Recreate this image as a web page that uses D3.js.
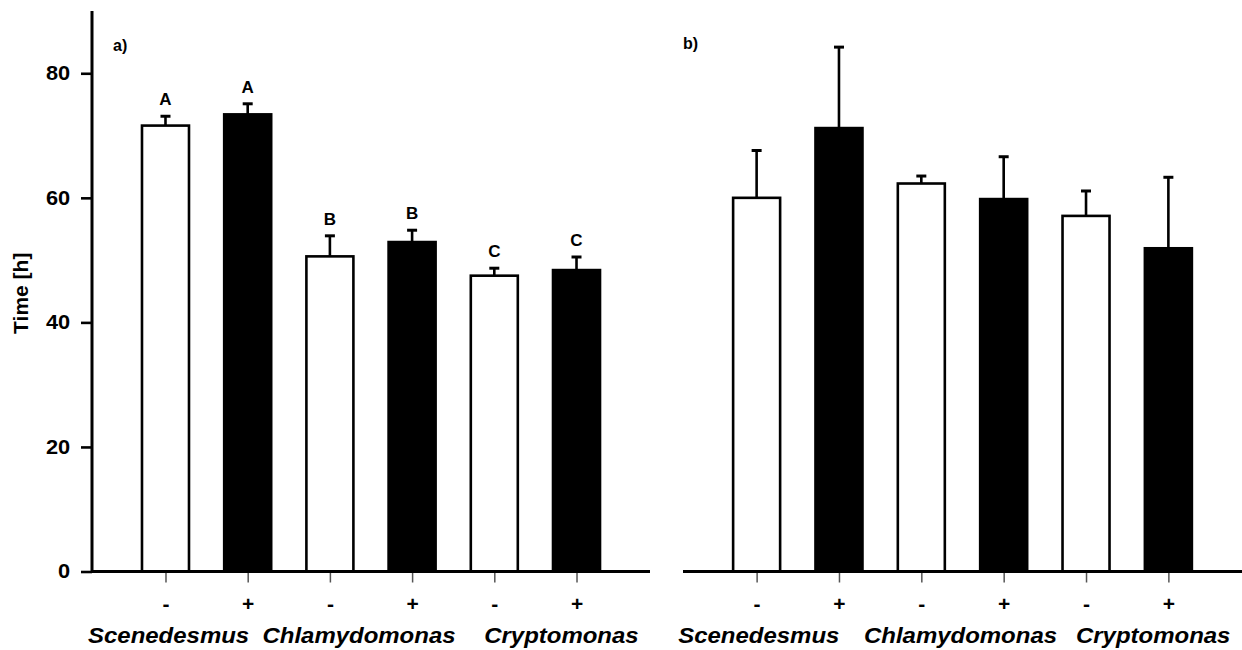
<!DOCTYPE html>
<html>
<head>
<meta charset="utf-8">
<script src="https://cdn.jsdelivr.net/npm/d3@7/dist/d3.min.js"></script>
<style>
  html, body { margin: 0; padding: 0; background: #fff; }
  svg { display: block; font-family: "Liberation Sans", Arial, sans-serif; }
</style>
</head>
<body>
<svg id="chart" width="1242" height="650"></svg>
<script>
// Algal species and grazer treatment (- absent, + present)
const species = ["Scenedesmus", "Chlamydomonas", "Cryptomonas"];
const treatments = ["-", "+"];

// Panel a): mean time [h], standard deviation, significance groups
const meanA = [71.6, 73.4, 50.6, 52.9, 47.5, 48.4];
const errA = [1.5, 1.7, 3.3, 1.9, 1.2, 2.1];
const groupsA = ["A", "A", "B", "B", "C", "C"];

// Panel b): mean time [h] and standard deviation
const meanB = [60.0, 71.2, 62.3, 59.8, 57.1, 51.9];
const errB = [7.6, 13.0, 1.2, 6.8, 4.0, 11.4];

const yTicks = [0, 20, 40, 60, 80];

const svg = d3.select("#chart");

const y = d3.scaleLinear().domain([0, 90]).range([571.5, 11]);

// one entry per bar: species x treatment
const keys = [];
species.forEach(s => treatments.forEach(t => keys.push(s + "|" + t)));

const panels = [
  { id: "a)", x0: 92, x1: 650, mean: meanA, err: errA, groups: groupsA, yAxis: true,
    labelX: 113, labelY: 51, nameShift: [-38, -12, 26] },
  { id: "b)", x0: 683, x1: 1242, mean: meanB, err: errB, groups: null, yAxis: false,
    labelX: 683, labelY: 49, nameShift: [-39, -2, 26] }
];

const barW = 47;
const capW = 10;
const FONT = "\"Liberation Sans\", Arial, sans-serif";
const STRETCH = 1.09; // slightly wide lettering

panels.forEach(p => {
  const g = svg.append("g");
  const x = d3.scalePoint().domain(keys).range([p.x0, p.x1]).padding(0.894);

  const rows = keys.map((k, i) => ({ key: k, mean: p.mean[i], err: p.err[i], fill: i % 2 ? "#000" : "#fff", grp: p.groups ? p.groups[i] : null }));

  // bars
  g.selectAll("rect.bar").data(rows).join("rect")
    .attr("class", "bar")
    .attr("x", d => x(d.key) - barW / 2)
    .attr("width", barW)
    .attr("y", d => y(d.mean))
    .attr("height", d => y(0) - y(d.mean))
    .attr("fill", d => d.fill)
    .attr("stroke", "#000")
    .attr("stroke-width", 2.6);

  // upper error bars
  g.selectAll("line.err").data(rows).join("line")
    .attr("class", "err")
    .attr("x1", d => x(d.key)).attr("x2", d => x(d.key))
    .attr("y1", d => y(d.mean)).attr("y2", d => y(d.mean + d.err))
    .attr("stroke", "#000").attr("stroke-width", 2.6);
  g.selectAll("line.cap").data(rows).join("line")
    .attr("class", "cap")
    .attr("x1", d => x(d.key) - capW / 2).attr("x2", d => x(d.key) + capW / 2)
    .attr("y1", d => y(d.mean + d.err)).attr("y2", d => y(d.mean + d.err))
    .attr("stroke", "#000").attr("stroke-width", 3);

  // significance letters
  if (p.groups) {
    g.selectAll("text.grp").data(rows).join("text")
      .attr("class", "grp")
      .attr("x", d => x(d.key))
      .attr("y", d => y(d.mean + d.err) - 11)
      .attr("text-anchor", "middle")
      .attr("font-size", 17).attr("font-weight", "bold")
      .text(d => d.grp);
  }

  // x axis with treatment signs
  const xAxis = d3.axisBottom(x).tickSize(11).tickFormat(k => k.split("|")[1]);
  const ax = g.append("g").attr("transform", `translate(0,${y(0)})`).call(xAxis);
  ax.select(".domain").remove();
  ax.selectAll(".tick line").attr("stroke", "#555").attr("stroke-width", 1.5);
  ax.selectAll(".tick text")
    .attr("y", 39).attr("dy", "0")
    .attr("font-size", 21).attr("font-weight", "bold")
    .attr("font-family", FONT)
    .attr("fill", "#000");
  g.append("line")
    .attr("x1", p.x0).attr("x2", p.x1)
    .attr("y1", y(0)).attr("y2", y(0))
    .attr("stroke", "#000").attr("stroke-width", 3);

  // species names under each pair
  g.selectAll("text.sp").data(species).join("text")
    .attr("class", "sp")
    .attr("transform", (s, i) =>
      `translate(${(x(s + "|-") + x(s + "|+")) / 2 + p.nameShift[i]},643) scale(${STRETCH},1)`)
    .attr("text-anchor", "middle")
    .attr("font-size", 22).attr("font-weight", "bold").attr("font-style", "italic")
    .text(s => s);

  // panel tag
  g.append("text")
    .attr("x", p.labelX).attr("y", p.labelY)
    .attr("font-size", 16).attr("font-weight", "bold")
    .text(p.id);

  if (p.yAxis) {
    const yAx = d3.axisLeft(y).tickValues(yTicks).tickSize(11).tickPadding(9);
    const ya = g.append("g").attr("transform", `translate(${p.x0},0)`).call(yAx);
    ya.select(".domain").remove();
    ya.selectAll(".tick line").attr("stroke", "#000").attr("stroke-width", 2.6);
    ya.selectAll(".tick text")
      .attr("transform", `scale(${STRETCH},1)`)
      .attr("font-size", 20).attr("font-weight", "bold")
      .attr("font-family", FONT)
      .attr("fill", "#000");
    g.append("line")
      .attr("x1", p.x0).attr("x2", p.x0)
      .attr("y1", y(90)).attr("y2", y(0) + 1.5)
      .attr("stroke", "#000").attr("stroke-width", 3);
    g.append("text")
      .attr("transform", `translate(28,${y(45) + 2}) rotate(-90)`)
      .attr("text-anchor", "middle")
      .attr("font-size", 21).attr("font-weight", "bold")
      .text("Time [h]");
  }
});
</script>
</body>
</html>
